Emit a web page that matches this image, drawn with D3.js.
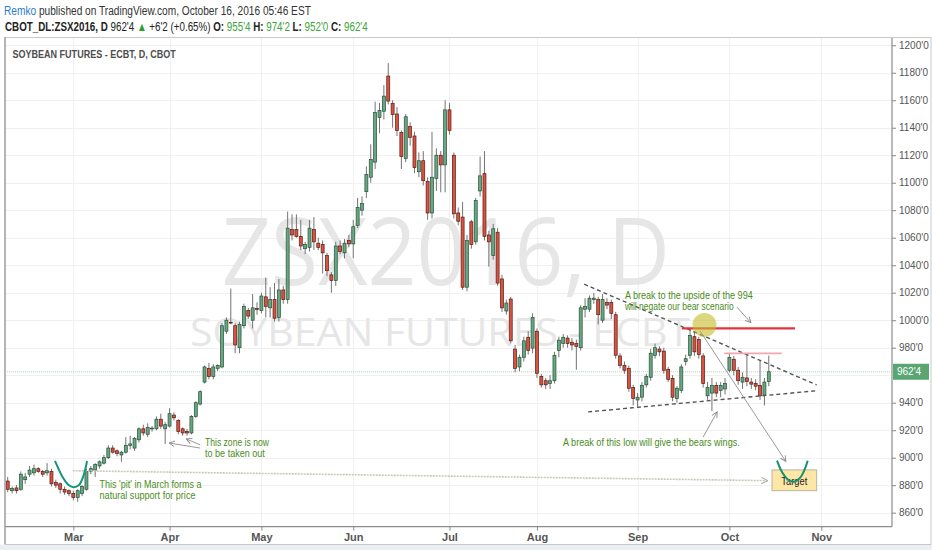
<!DOCTYPE html>
<html><head><meta charset="utf-8">
<script src="https://cdn.jsdelivr.net/npm/d3@7"></script>
<style>
body{margin:0;background:#fff;}
svg{display:block;font-family:"Liberation Sans",Arial,sans-serif;}
</style></head><body>
<svg id="c" width="932" height="550"></svg>
<script>
// ---------------- DATA ----------------
const startDate = "2016-02-08";
const holidays = ["2016-02-15","2016-03-25","2016-05-30","2016-07-04","2016-09-05"];
const opens = [883,876,878,877,884,888,889,892,890,889,
890,882,881,877,876,874,871,874,877,890,
891,894,896,900,907,905,902,904,909,907,
913,921,917,921,921,928,921,923,931,927,
921,919,918,930,939,955,965,959,965,966,
992,998.5,996,980,996,1007,1000,1008.5,1007,1017,
1009,1015,1002,1022,1015,1066,1066,1061,1052,1053,
1066,1056,1055,1047,1033,1029,1054,1049,1058,1055.5,
1069,1080,1093.5,1104,1115,1147.5,1152,1177.6,1157.7,1150,
1136.5,1117.6,1141,1134,1108,1116,1101,1078,1103,1120,
1113,1153,1120,1078,1075,1024,1071.6,1057,1094,1106.6,
1062,1047,1064,1030,1006.7,1015.4,979,966,973,987.6,
979.7,992,959,956,954,956,978,983,987,984,
983,980,1008,1008,1015,1015,1000,1013,1013,1004,
974,967,965,951,942,944,953,958.5,974.5,979,
977.5,964.3,957.7,943,949,970,974.5,988,986,974,
945,947,952.6,949,950,963.6,971.6,963.6,955,958,
955,954,952.6,945.5,955.5];
const highs = [886,879,880,890,889,894,895,893,891,896,
892,884,882,879,877,876,877,880,892,894,
896,898,902,909,909,906,905,915,916,915,
922,924,925,923,930,932,926,936,933,928,
922,921,931,941,949,967,969,968,968,998,
1002,1023,998,999,1012,1009,1019,1013,1020,1031,
1024,1027,1030,1025,1079,1077,1077,1073,1057,1073,
1075,1060,1058,1049,1035,1057,1058,1059,1062,1073,
1089,1090,1112,1128,1159,1158,1171,1187,1160,1155,
1138,1150,1144,1137,1122,1123,1104,1137,1125,1123,
1160,1158,1122,1082,1086,1062,1073,1089,1119,1123,
1065,1070,1067,1033,1015,1017,982,975,988,992,
1005,994,961,958,960,977,988,990,989,987,
986,1011,1016,1018,1020,1017,1019,1016,1015,1006,
976,970,967,953,947,955,961,979,983,981,
980,966,960,952,968,975,994,992,988,976,
955,958,955,955,958,976,974,966,962,976,
958,957,971,958,974.25];
const lows = [875,874,874,876,881,886,887,889,886,887,
879,878,874,873,872,869,868,872,876,888,
886,892,895,899,903,901,897,903,906,905,
911,916,915,919,920,921,910,922,927,917,
916,916,917,929,938,954,957,957,963,965,
990,997,976,976,994,1001,994,1004,1005,1002,
1002,999,999,1012,1012,1058,1060,1051,1048,1050,
1051,1051,1034,1032,1020,1025,1048,1045,1053,1045,
1067,1076,1089,1100,1110,1136,1146,1157,1140,1134,
1110,1115,1127,1107,1104,1098,1073,1074,1094,1093,
1093,1135,1074,1069,1022,1021,1052,1055,1090,1058,
1039,1044,1025,1006,1004,983,962,963,970,975,
976,958,951,950,950,954,973,980,980,978,
964,978,1002,1006,1012,997,998,1008,1001,972,
965,961,948,938,937,941,951,956,972,974,
961,955,941,940,947,967,972,974,972,951,
942,934,944,944,946,962,960,953,950,952,
950,949,942,938,952];
const closes = [877,877.5,876,888,886,891,892,890,888,890.5,
881,880,877,875,874,871,876,879,890,892,
895,897,900,907,904,903,904,909,910,914,
921,918,922,921.5,928,923,924,932,929,919,
918,918,930,940,948,966,959,966,967,996,
1000,998,982,997,1010,1003,1009,1008,1017.6,1010,
1015,1001.5,1022,1015,1067,1062,1061,1054,1055,1067,
1057,1053,1049,1036,1029,1054,1050,1056,1055.5,1068,
1082,1085,1106,1117,1151,1152.6,1163,1159.4,1149.7,1138,
1119,1148,1133,1111,1116,1101.5,1078,1104,1120,1113,
1153,1138,1077.4,1072,1024,1058,1055,1087,1105,1061,
1057,1066.5,1027,1009,1012.5,985,965,973,985,978,
1002,961.4,953,953,956,974.5,985.5,987.6,983,982,
981,1009,1010,1016,1016,1004,1015,1011,1005,974.5,
967,963.6,950.5,943,944,952.6,959,976,980,977,
963.6,957,944,950.5,966,972,989,977,975,954,
951,952.6,947,952.6,954,973,963.6,956,958.5,955.5,
953.5,952,945,955,962.5];
const priceTicks = d3.range(860, 1201, 20);
const lastPrice = 962.5;
const lastLabel = "962'4";

// annotations in (trading-day index, price)
const pitCurve = [[10.81,897.6],[12.41,886.7],[13.79,880.5],[15.0,878.5],[16.3,880.1],[17.44,888.1],[18.13,897.6]];
const targetCurve = [[175.88,897.8],[177.02,889.6],[178.39,884.1],[179.83,882.5],[181.13,885.3],[182.16,891.1],[182.89,897.8]];
const supportGuide = [[14.86,890.5],[173.75,883.3]];
const triUpper = [[131.8,1026.2],[184.95,952.9]];
const triLower = [[132.7,933.3],[184.95,948.7]];
const barrier = [[154.1,994],[180,994]];
const pinkLevel = [[163.8,975.9],[176.96,975.9]];
const circlePt = [159.3,996.5];
const arrows = [
  [[44.0,907],[36.9,910.7]],
  [[44.0,909.3],[40.8,913.7]],
  [[166.7,1009.6],[169.9,998.2]],
  [[158.3,992.1],[177.9,897.3]],
  [[159,915],[162.2,933.3]]
];
const notes = [
  {lines:["This 'pit' in March forms a","natural support for price"], i:21.0, p:[878.3,870.3], w:[102,96]},
  {lines:["This zone is now","to be taken out"], i:45.1, p:[908.5,900.5], w:[64,60]},
  {lines:["A break to the upside of the 994","will negate our bear scenario"], i:141.1, p:[1015.4,1007.4], w:[128,109]},
  {lines:["A break of this low will give the bears wings."], i:126.96, p:[908.5], w:[177]}
];
const targetBox = {i0:174.74, i1:184.95, p0:891.1, p1:876.0, label:"Target"};

// ---------------- CHART ----------------
const svg = d3.select("#c");
const plot = {l:5, r:892, t:37, b:526.7};
const x = d3.scaleLinear().domain([-0.62, 202.17]).range([plot.l, plot.r]);
const y = d3.scaleLinear().domain([849.8, 1206]).range([plot.b, plot.t]);

const fmtDay = d3.utcFormat("%Y-%m-%d");
const days = d3.utcDay.range(new Date(startDate+"T00:00:00Z"), new Date("2016-12-01T00:00:00Z"))
  .filter(d => d.getUTCDay()%6 !== 0 && !holidays.includes(fmtDay(d)));
const monthTicks = days.map((d,i)=>({d,i})).filter(o => o.i>0 && o.d.getUTCMonth()!==days[o.i-1].getUTCMonth());

function fit(parent, tx, ty, target, build, anchor){
  const g = parent.append("g");
  const t = g.append("text").attr("text-anchor", anchor||"start");
  build(t);
  const w = t.node().getComputedTextLength();
  g.attr("transform", `translate(${tx},${ty}) scale(${target/w},1)`);
  return g;
}

// background band
svg.append("rect").attr("x",0).attr("y",544.5).attr("width",932).attr("height",6).attr("fill","#eceff2");

// grid
const grid = svg.append("g");
grid.selectAll("line.h").data(priceTicks).join("line")
  .attr("x1",plot.l).attr("x2",plot.r).attr("y1",d=>Math.round(y(d))+0.5).attr("y2",d=>Math.round(y(d))+0.5)
  .attr("stroke","#f0f0f0");
grid.selectAll("line.v").data(monthTicks).join("line")
  .attr("x1",d=>Math.round(x(d.i))+0.5).attr("x2",d=>Math.round(x(d.i))+0.5).attr("y1",plot.t).attr("y2",plot.b)
  .attr("stroke","#f0f0f0");

// watermark
const wm = svg.append("g").attr("fill","#e6e6e6").style("font-family","'Open Sans',sans-serif");
fit(wm, 446, 285, 448, t=>t.text("ZSX2016, D").attr("font-size",94), "middle");
fit(wm, 440, 346, 500, t=>t.text("SOYBEAN FUTURES - ECBT").attr("font-size",39), "middle");

// last price line
svg.append("line").attr("x1",plot.l).attr("x2",plot.r).attr("y1",y(lastPrice)).attr("y2",y(lastPrice))
  .attr("stroke","#b9d6c0").attr("stroke-dasharray","1,1");

// candles
const candles = opens.map((o,i)=>({i,o,h:highs[i],l:lows[i],c:closes[i]}));
const cg = svg.append("g");
cg.selectAll("line").data(candles).join("line")
  .attr("x1",d=>x(d.i)).attr("x2",d=>x(d.i)).attr("y1",d=>y(d.h)).attr("y2",d=>y(d.l))
  .attr("stroke","#737375").attr("stroke-width",1);
cg.selectAll("rect").data(candles).join("rect")
  .attr("x",d=>x(d.i)-1.5).attr("width",3)
  .attr("y",d=>y(Math.max(d.o,d.c))).attr("height",d=>Math.max(0.8,Math.abs(y(d.o)-y(d.c))))
  .attr("fill",d=>d.c>=d.o?"#6ba583":"#d75442")
  .attr("stroke",d=>d.c>=d.o?"#225437":"#5b1a13").attr("stroke-width",0.7);

// annotations
const defs = svg.append("defs");
defs.append("marker").attr("id","arr").attr("viewBox","0 0 10 10").attr("refX",9).attr("refY",5)
  .attr("markerWidth",7).attr("markerHeight",7).attr("markerUnits","userSpaceOnUse").attr("orient","auto")
  .append("path").attr("d","M1,1 L9,5 L1,9").attr("fill","none").attr("stroke","#8c8c8c").attr("stroke-width",1.3);
defs.append("marker").attr("id","arr2").attr("viewBox","0 0 10 10").attr("refX",9).attr("refY",5)
  .attr("markerWidth",8).attr("markerHeight",8).attr("markerUnits","userSpaceOnUse").attr("orient","auto")
  .append("path").attr("d","M1,1 L9,5 L1,9").attr("fill","none").attr("stroke","#aab49e").attr("stroke-width",1.3);

const ln = d3.line().x(d=>x(d[0])).y(d=>y(d[1]));
const an = svg.append("g");
an.append("path").attr("d",ln(supportGuide)).attr("stroke","#c3ccb5").attr("stroke-width",1.6)
  .attr("stroke-dasharray","2,1").attr("fill","none").attr("marker-end","url(#arr2)");
an.append("path").attr("d",ln.curve(d3.curveCatmullRom)(pitCurve)).attr("stroke","#14977a").attr("stroke-width",2).attr("fill","none");
ln.curve(d3.curveLinear);
[triUpper,triLower].forEach(s=>an.append("path").attr("d",ln(s)).attr("stroke","#555").attr("stroke-width",1.4)
  .attr("stroke-dasharray","4,3").attr("fill","none"));
an.append("path").attr("d",ln(pinkLevel)).attr("stroke","#f4a6ae").attr("stroke-width",1.6);
an.append("path").attr("d",ln(barrier)).attr("stroke","#e2363e").attr("stroke-width",2.2);
an.append("circle").attr("cx",x(circlePt[0])).attr("cy",y(circlePt[1])).attr("r",12)
  .attr("fill","rgba(196,186,40,0.6)");
arrows.forEach(a=>an.append("path").attr("d",ln(a)).attr("stroke","#9a9a9a").attr("stroke-width",1)
  .attr("fill","none").attr("marker-end","url(#arr)"));

// target box
an.append("rect").attr("x",x(targetBox.i0)).attr("y",y(targetBox.p0))
  .attr("width",x(targetBox.i1)-x(targetBox.i0)).attr("height",y(targetBox.p1)-y(targetBox.p0))
  .attr("fill","#fde6a6").attr("stroke","#b9b5a0").attr("stroke-width",1);
fit(an, (x(targetBox.i0)+x(targetBox.i1))/2, y(880.2), 26, t=>t.text(targetBox.label).attr("font-size",10.5).attr("fill","#222"), "middle");
an.append("path").attr("d",ln.curve(d3.curveCatmullRom)(targetCurve)).attr("stroke","#14906e").attr("stroke-width",2).attr("fill","none");
ln.curve(d3.curveLinear);

notes.forEach(n=>n.lines.forEach((s,k)=>{
  fit(an, x(n.i), y(n.p[k]), n.w[k], t=>t.text(s).attr("font-size",10).attr("fill","#4b8c22"));
}));

// axes
const ax = svg.append("g");
ax.append("line").attr("x1",plot.l).attr("x2",plot.r).attr("y1",plot.b).attr("y2",plot.b).attr("stroke","#8c8c8c").attr("stroke-width",1.2);
ax.append("line").attr("x1",plot.r).attr("x2",plot.r).attr("y1",plot.t).attr("y2",plot.b).attr("stroke","#8c8c8c").attr("stroke-width",1.2);
const shownTicks = priceTicks.filter(p => Math.abs(y(p)-y(lastPrice)) > 12);
const ya = svg.append("g").attr("transform",`translate(${plot.r},0)`)
  .call(d3.axisRight(y).tickValues(shownTicks).tickSize(4).tickPadding(3).tickFormat(d=>d+"'0"));
ya.select(".domain").remove();
ya.selectAll("line").attr("stroke","#888");
ya.selectAll("text").attr("fill","#555").attr("font-size",10).style("font-family","'Liberation Sans',Arial,sans-serif");
const xa = svg.append("g").attr("transform",`translate(0,${plot.b})`)
  .call(d3.axisBottom(x).tickValues(monthTicks.map(d=>d.i)).tickSize(4).tickPadding(3)
    .tickFormat(i=>d3.utcFormat("%b")(days[i])));
xa.select(".domain").remove();
xa.selectAll("line").attr("stroke","#888");
xa.selectAll("text").attr("fill","#555").attr("font-size",11).attr("font-weight","bold").style("font-family","'Liberation Sans',Arial,sans-serif");

// last price label
const ly = y(lastPrice);
svg.append("rect").attr("x",plot.r+1).attr("y",ly-8).attr("width",36).attr("height",16).attr("fill","#5aa673");
svg.append("text").attr("x",plot.r+5).attr("y",ly+3.5).attr("fill","#fff").attr("font-size",10).text(lastLabel);

// frame
const fr = svg.append("g").attr("fill","none");
fr.append("line").attr("x1",5).attr("x2",931).attr("y1",37.5).attr("y2",37.5).attr("stroke","#c8c8c8");
fr.append("line").attr("x1",5).attr("x2",5).attr("y1",37).attr("y2",544.5).attr("stroke","#9e9e9e").attr("stroke-width",1.5);
fr.append("line").attr("x1",931).attr("x2",931).attr("y1",37).attr("y2",544.5).attr("stroke","#c8c8c8");
fr.append("line").attr("x1",5).attr("x2",931).attr("y1",544.5).attr("y2",544.5).attr("stroke","#c8c8c8");

// title in chart
fit(svg, 12.5, 57.5, 163.5, t=>t.text("SOYBEAN FUTURES - ECBT, D, CBOT").attr("font-size",10.5).attr("font-weight","bold").attr("fill","#4d4d4d"));

// header
fit(svg, 4, 14.5, 307, t=>{
  t.attr("font-size",12.5).attr("fill","#333");
  t.append("tspan").attr("fill","#2a7ccb").text("Remko");
  t.append("tspan").text(" published on TradingView.com, October 16, 2016 05:46 EST");
});
fit(svg, 5, 30.5, 363, t=>{
  t.attr("font-size",12.5).attr("fill","#222");
  t.append("tspan").attr("font-weight","bold").text("CBOT_DL:ZSX2016, D");
  t.append("tspan").text("  962'4 ");
  t.append("tspan").attr("fill","#2ca02c").text("▲");
  t.append("tspan").text(" +6'2 (+0.65%)  ");
  [["O:","955'4"],["H:","974'2"],["L:","952'0"],["C:","962'4"]].forEach((p,k)=>{
    t.append("tspan").attr("font-weight","bold").text(p[0]+" ");
    t.append("tspan").attr("fill","#3ca43c").text(p[1]+(k<3?" ":""));
  });
});
</script>
</body></html>
